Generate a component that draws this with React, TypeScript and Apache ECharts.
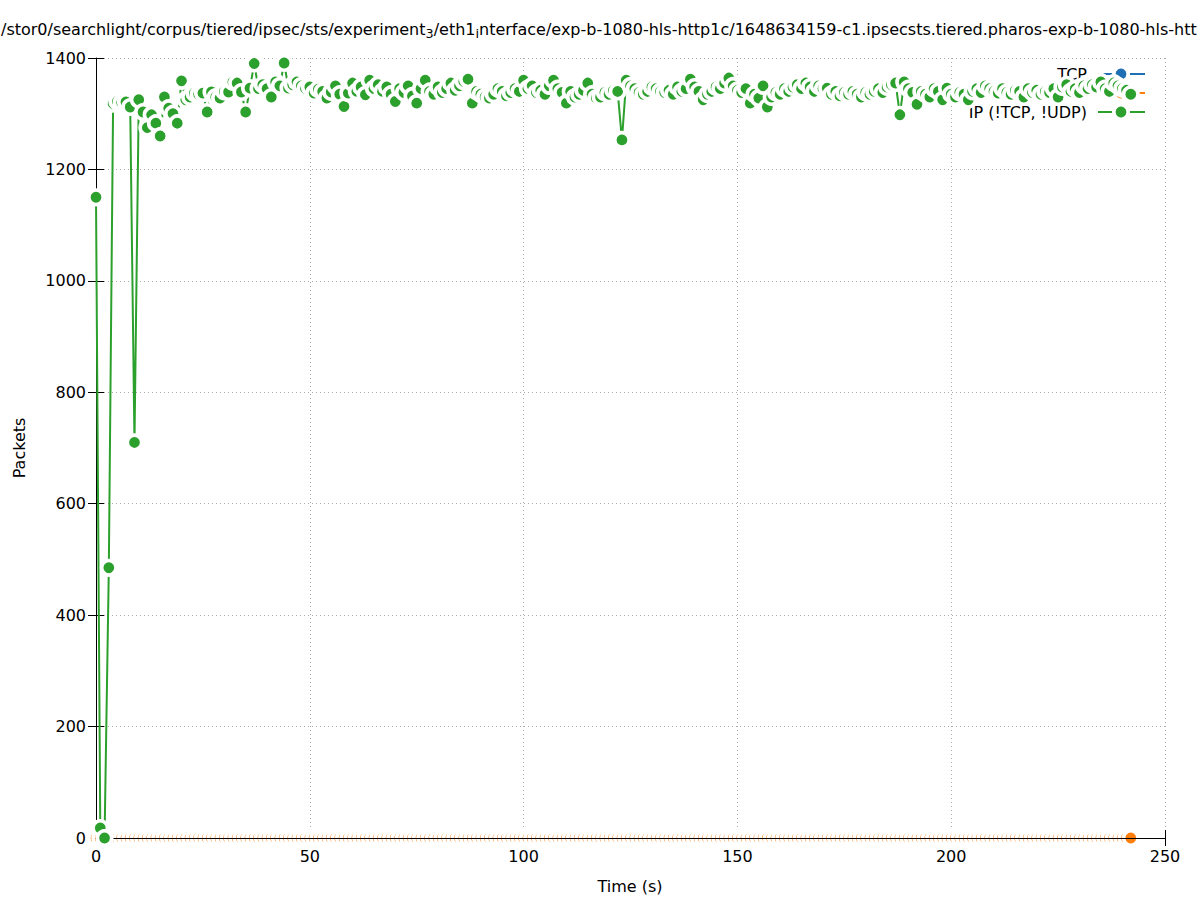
import React, { useEffect, useRef } from 'react';
import * as echarts from 'echarts';

const FONT = 'DejaVu Sans';

const titleMain1 = '/stor0/searchlight/corpus/tiered/ipsec/sts/experiment';
const titleSub1 = '3';
const titleMain2 = '/eth1';
const titleSub2 = 'i';
const titleMain3 = 'nterface/exp-b-1080-hls-http1c/1648634159-c1.ipsecsts.tiered.pharos-exp-b-1080-hls-http1c';

const xAxisName = 'Time (s)';
const yAxisName = 'Packets';
const seriesNames = ['TCP', 'UDP', 'IP (!TCP, !UDP)'];
const seriesColors = ['#1f6fb4', '#ff7f0e', '#2ca02c'];

const xMin = 0;
const xMax = 250;
const xStep = 50;
const yMin = 0;
const yMax = 1400;
const yStep = 200;

// packets per 1-second bin, t = 0 .. 242
const ipValues = [
  1150, 18, 0, 485, 1318, 1322, 1320, 1321, 1312, 710,
  1325, 1303, 1275, 1298, 1283, 1260, 1330, 1310, 1300, 1283,
  1359, 1325, 1330, 1337, 1335, 1337, 1303, 1339, 1330, 1328,
  1340, 1339, 1357, 1355, 1339, 1303, 1346, 1390, 1345, 1352,
  1345, 1330, 1357, 1350, 1391, 1346, 1352, 1357, 1350, 1345,
  1348, 1337, 1344, 1340, 1328, 1339, 1350, 1335, 1313, 1337,
  1355, 1340, 1348, 1334, 1360, 1345, 1352, 1340, 1348, 1335,
  1322, 1345, 1338, 1350, 1332, 1319, 1345, 1360, 1340, 1335,
  1348, 1338, 1345, 1355, 1342, 1350, 1358, 1362, 1319, 1340,
  1335, 1330, 1328, 1335, 1345, 1340, 1332, 1338, 1345, 1340,
  1360, 1345, 1350, 1338, 1342, 1335, 1350, 1360, 1345, 1338,
  1319, 1340, 1330, 1335, 1342, 1355, 1335, 1328, 1330, 1338,
  1335, 1342, 1340, 1253, 1360, 1350, 1345, 1338, 1335, 1340,
  1348, 1345, 1340, 1338, 1342, 1335, 1348, 1340, 1345, 1362,
  1348, 1340, 1325, 1335, 1340, 1348, 1345, 1355, 1364, 1350,
  1342, 1338, 1345, 1319, 1335, 1328, 1350, 1312, 1330, 1338,
  1335, 1345, 1340, 1348, 1352, 1345, 1355, 1348, 1340, 1350,
  1345, 1346, 1335, 1340, 1332, 1338, 1335, 1340, 1335, 1330,
  1338, 1335, 1340, 1345, 1338, 1348, 1352, 1355, 1298, 1357,
  1345, 1338, 1317, 1340, 1335, 1330, 1345, 1340, 1325, 1346,
  1335, 1330, 1338, 1335, 1325, 1340, 1345, 1338, 1350, 1345,
  1340, 1337, 1345, 1338, 1335, 1342, 1340, 1330, 1345, 1338,
  1342, 1335, 1340, 1338, 1345, 1330, 1348, 1352, 1340, 1345,
  1338, 1350, 1345, 1352, 1348, 1357, 1345, 1340, 1355, 1350,
  1345, 1342, 1335,
];

const tcpValues = [
  0, 0, 0, 0, 0, 0, 0, 0, 0, 0, 0, 0, 0, 0, 0, 0, 0, 0, 0, 0,
  0, 0, 0, 0, 0, 0, 0, 0, 0, 0, 0, 0, 0, 0, 0, 0, 0, 0, 0, 0,
  0, 0, 0, 0, 0, 0, 0, 0, 0, 0, 0, 0, 0, 0, 0, 0, 0, 0, 0, 0,
  0, 0, 0, 0, 0, 0, 0, 0, 0, 0, 0, 0, 0, 0, 0, 0, 0, 0, 0, 0,
  0, 0, 0, 0, 0, 0, 0, 0, 0, 0, 0, 0, 0, 0, 0, 0, 0, 0, 0, 0,
  0, 0, 0, 0, 0, 0, 0, 0, 0, 0, 0, 0, 0, 0, 0, 0, 0, 0, 0, 0,
  0, 0, 0, 0, 0, 0, 0, 0, 0, 0, 0, 0, 0, 0, 0, 0, 0, 0, 0, 0,
  0, 0, 0, 0, 0, 0, 0, 0, 0, 0, 0, 0, 0, 0, 0, 0, 0, 0, 0, 0,
  0, 0, 0, 0, 0, 0, 0, 0, 0, 0, 0, 0, 0, 0, 0, 0, 0, 0, 0, 0,
  0, 0, 0, 0, 0, 0, 0, 0, 0, 0, 0, 0, 0, 0, 0, 0, 0, 0, 0, 0,
  0, 0, 0, 0, 0, 0, 0, 0, 0, 0, 0, 0, 0, 0, 0, 0, 0, 0, 0, 0,
  0, 0, 0, 0, 0, 0, 0, 0, 0, 0, 0, 0, 0, 0, 0, 0, 0, 0, 0, 0,
  0, 0, 0,
];

const udpValues = [
  0, 0, 0, 0, 0, 0, 0, 0, 0, 0, 0, 0, 0, 0, 0, 0, 0, 0, 0, 0,
  0, 0, 0, 0, 0, 0, 0, 0, 0, 0, 0, 0, 0, 0, 0, 0, 0, 0, 0, 0,
  0, 0, 0, 0, 0, 0, 0, 0, 0, 0, 0, 0, 0, 0, 0, 0, 0, 0, 0, 0,
  0, 0, 0, 0, 0, 0, 0, 0, 0, 0, 0, 0, 0, 0, 0, 0, 0, 0, 0, 0,
  0, 0, 0, 0, 0, 0, 0, 0, 0, 0, 0, 0, 0, 0, 0, 0, 0, 0, 0, 0,
  0, 0, 0, 0, 0, 0, 0, 0, 0, 0, 0, 0, 0, 0, 0, 0, 0, 0, 0, 0,
  0, 0, 0, 0, 0, 0, 0, 0, 0, 0, 0, 0, 0, 0, 0, 0, 0, 0, 0, 0,
  0, 0, 0, 0, 0, 0, 0, 0, 0, 0, 0, 0, 0, 0, 0, 0, 0, 0, 0, 0,
  0, 0, 0, 0, 0, 0, 0, 0, 0, 0, 0, 0, 0, 0, 0, 0, 0, 0, 0, 0,
  0, 0, 0, 0, 0, 0, 0, 0, 0, 0, 0, 0, 0, 0, 0, 0, 0, 0, 0, 0,
  0, 0, 0, 0, 0, 0, 0, 0, 0, 0, 0, 0, 0, 0, 0, 0, 0, 0, 0, 0,
  0, 0, 0, 0, 0, 0, 0, 0, 0, 0, 0, 0, 0, 0, 0, 0, 0, 0, 0, 0,
  0, 0, 0,
];

const SYMBOL_SIZE = 14.4;
const HALO = 3.6;

export default function App() {
  const ref = useRef<HTMLDivElement>(null);

  useEffect(() => {
    if (!ref.current) return;
    const chart = echarts.init(ref.current, undefined, { renderer: 'svg' });

    const toXY = (vals: number[]) => vals.map((v, i) => [i, v]);
    const lineSeries = (name: string, color: string, vals: number[], z: number) => ({
      type: 'line',
      name,
      data: toXY(vals),
      z,
      clip: false,
      silent: true,
      symbol: 'circle',
      symbolSize: SYMBOL_SIZE,
      showSymbol: true,
      showAllSymbol: true,
      itemStyle: { color, borderColor: '#ffffff', borderWidth: HALO },
      lineStyle: { color, width: 2 },
      emphasis: { disabled: true },
    });

    const tick = { show: true, inside: true, length: 8, lineStyle: { color: '#000000', width: 1 } };
    const label = {
      color: '#000000', fontSize: 16, fontFamily: FONT, margin: 10,
      formatter: (v: number) => String(v),
    };
    const split = { show: true, lineStyle: { color: '#aaaaaa', width: 1, type: [1, 3] } };
    const noLine = { show: false };
    const borderLine = { show: true, onZero: false, lineStyle: { color: '#000000', width: 1 } };

    const xBase = { type: 'value', min: xMin, max: xMax, interval: xStep };
    const yBase = { type: 'value', min: yMin, max: yMax, interval: yStep };

    const legendRows = [74, 93, 112];
    const legendEls: any[] = [];
    seriesNames.forEach((name, i) => {
      const y = legendRows[i];
      const c = seriesColors[i];
      legendEls.push({
        type: 'text', x: 1087, y, z: 1,
        style: { text: name, align: 'right', verticalAlign: 'middle', fontSize: 16, fontFamily: FONT, fill: '#000000' },
      });
      legendEls.push({
        type: 'line', z: 1,
        shape: { x1: 1098, y1: y, x2: 1145, y2: y },
        style: { stroke: c, lineWidth: 2 },
      });
      legendEls.push({
        type: 'circle', z: 1,
        shape: { cx: 1121, cy: y, r: SYMBOL_SIZE / 2 },
        style: { fill: c, stroke: '#ffffff', lineWidth: HALO },
      });
    });

    const option = {
      animation: false,
      grid: { left: 96, right: 32, top: 58, bottom: 62, containLabel: false },
      xAxis: [
        { ...xBase, position: 'bottom', axisLine: noLine, axisTick: tick, axisLabel: label, splitLine: split, z: 0 },
        { ...xBase, position: 'top', axisLine: noLine, axisTick: tick, axisLabel: { show: false }, splitLine: { show: false }, z: 0 },
        { ...xBase, position: 'bottom', axisLine: borderLine, axisTick: { show: false }, axisLabel: { show: false }, splitLine: { show: false }, z: 1.5 },
      ],
      yAxis: [
        { ...yBase, position: 'left', axisLine: noLine, axisTick: tick, axisLabel: label, splitLine: split, z: 0 },
        { ...yBase, position: 'right', axisLine: noLine, axisTick: tick, axisLabel: { show: false }, splitLine: { show: false }, z: 0 },
        { ...yBase, position: 'left', axisLine: borderLine, axisTick: { show: false }, axisLabel: { show: false }, splitLine: { show: false }, z: 1.5 },
      ],
      series: [
        lineSeries(seriesNames[0], seriesColors[0], tcpValues, 1),
        lineSeries(seriesNames[1], seriesColors[1], udpValues, 1),
        lineSeries(seriesNames[2], seriesColors[2], ipValues, 2),
      ],
      graphic: {
        elements: [
          {
            type: 'text', x: 1, y: 29.5, z: 5,
            style: {
              text: `{a|${titleMain1}}{s|${titleSub1}}{a|${titleMain2}}{s|${titleSub2}}{a|${titleMain3}}`,
              verticalAlign: 'middle',
              align: 'left',
              rich: {
                a: { fontSize: 16, fontFamily: FONT, fill: '#000000', lineHeight: 20 },
                s: { fontSize: 12.8, fontFamily: FONT, fill: '#000000', lineHeight: 10, verticalAlign: 'bottom' },
              },
            },
          },
          {
            type: 'text', x: 19, y: 448, rotation: Math.PI / 2, z: 5,
            style: { text: yAxisName, align: 'center', verticalAlign: 'middle', fontSize: 16, fontFamily: FONT, fill: '#000000' },
          },
          {
            type: 'text', x: 630, y: 886, z: 5,
            style: { text: xAxisName, align: 'center', verticalAlign: 'middle', fontSize: 16, fontFamily: FONT, fill: '#000000' },
          },
          ...legendEls,
        ],
      },
    };

    chart.setOption(option as any);
    return () => chart.dispose();
  }, []);

  return (
    <div
      ref={ref}
      style={{ position: 'absolute', left: 0, top: 0, width: 1197, height: 900, background: '#ffffff' }}
    />
  );
}
